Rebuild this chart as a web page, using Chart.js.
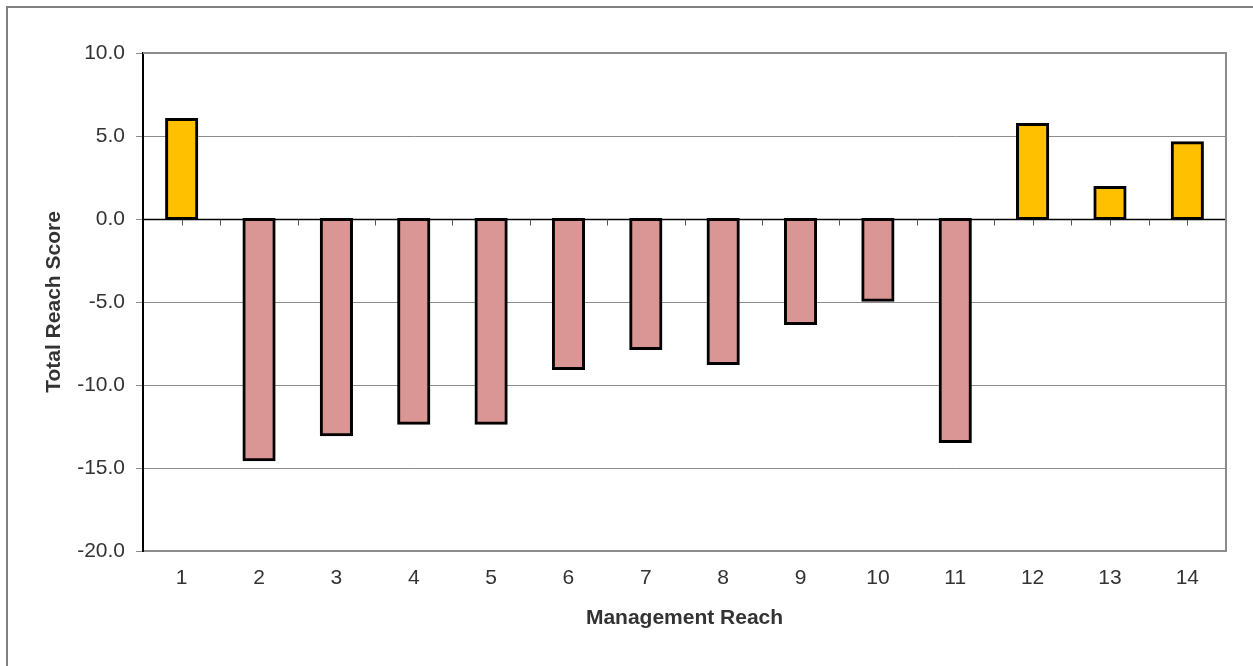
<!DOCTYPE html>
<html>
<head>
<meta charset="utf-8">
<script src="https://cdn.jsdelivr.net/npm/chart.js@4.4.0/dist/chart.umd.min.js"></script>
<style>
  body { margin: 0; background: #fff; }
  #wrap { position: relative; width: 1253px; height: 666px; }
  #frame { position: absolute; left: 6px; top: 6px; right: -10px; bottom: -10px;
           border-left: 2px solid #808080; border-top: 2px solid #808080; pointer-events: none; }
</style>
</head>
<body>
<div id="wrap">
  <canvas id="myChart" width="1253" height="666"></canvas>
  <div id="frame"></div>
</div>
<script>
// chart data
const reaches = ["1", "2", "3", "4", "5", "6", "7", "8", "9", "10", "11", "12", "13", "14"];
const scores = [6.0, -14.5, -13.0, -12.3, -12.3, -9.0, -7.8, -8.7, -6.3, -4.9, -13.4, 5.7, 1.9, 4.6];
const yTicks = [10, 5, 0, -5, -10, -15, -20];

const posColor = '#FFC000';
const negColor = '#DA9694';
const fontFamily = 'Liberation Sans, Arial';

// zero line + small ticks, drawn under the bars
const zeroLinePlugin = {
  id: 'zeroLine',
  beforeDatasetsDraw(chart) {
    const ctx = chart.ctx;
    const area = chart.chartArea;
    const x = chart.scales.x;
    const y = chart.scales.y;
    const half = (x.getPixelForValue(1) - x.getPixelForValue(0)) / 2;
    const y0 = Math.round(y.getPixelForValue(0)) + 0.5;
    ctx.save();
    ctx.strokeStyle = '#000';
    ctx.lineWidth = 1.5;
    ctx.beginPath();
    ctx.moveTo(area.left, y0);
    ctx.lineTo(area.right, y0);
    ctx.stroke();
    ctx.lineWidth = 1;
    ctx.strokeStyle = '#555';
    ctx.beginPath();
    for (let i = 0; i < reaches.length; i++) {
      const c = Math.round(x.getPixelForValue(i)) + 0.5;
      const b = Math.round(x.getPixelForValue(i) + half) + 0.5;
      ctx.moveTo(c, y0); ctx.lineTo(c, y0 + 6);
      ctx.moveTo(b, y0); ctx.lineTo(b, y0 + 6);
    }
    ctx.stroke();
    ctx.restore();
  },
  afterDraw(chart) {
    const ctx = chart.ctx;
    const area = chart.chartArea;
    ctx.save();
    ctx.strokeStyle = '#8c8c8c';
    ctx.lineWidth = 2;
    ctx.beginPath();
    ctx.moveTo(area.left, area.top);
    ctx.lineTo(area.right, area.top);
    ctx.lineTo(area.right, area.bottom);
    ctx.stroke();
    ctx.restore();
  }
};

var ctx = document.getElementById('myChart').getContext('2d');
var myChart = new Chart(ctx, {
  type: 'bar',
  data: {
    labels: reaches,
    datasets: [{
      data: scores,
      backgroundColor: scores.map(v => v >= 0 ? posColor : negColor),
      borderColor: '#000',
      borderWidth: 3,
      borderSkipped: false,
      inflateAmount: 1.5,
      categoryPercentage: 1,
      barPercentage: 0.39
    }]
  },
  plugins: [zeroLinePlugin],
  options: {
    responsive: false,
    animation: false,
    layout: { padding: { left: 0, top: 53, right: 27, bottom: 0 } },
    plugins: { legend: { display: false }, tooltip: { enabled: false } },
    scales: {
      x: {
        grid: { display: false, drawTicks: false },
        border: { color: '#8c8c8c', width: 2 },
        ticks: { color: '#333', font: { family: fontFamily, size: 21 }, padding: 15 },
        title: {
          display: true, text: 'Management Reach', color: '#333',
          font: { family: fontFamily, size: 21, weight: 'bold' },
          padding: { top: 0, bottom: 35 }
        },
        afterFit(scale) { scale.height = 115; }
      },
      y: {
        min: -20, max: 10,
        afterBuildTicks(scale) { scale.ticks = yTicks.map(v => ({ value: v })); },
        grid: {
          color: c => c.tick && c.tick.value === 0 ? 'rgba(0,0,0,0)' : '#8c8c8c',
          lineWidth: 1,
          tickLength: 7,
          tickColor: '#8c8c8c'
        },
        border: { color: '#000', width: 2 },
        ticks: {
          color: '#333', padding: 11,
          font: { family: fontFamily, size: 21 },
          callback: v => Number(v).toFixed(1)
        },
        title: {
          display: true, text: 'Total Reach Score', color: '#333',
          font: { family: fontFamily, size: 21, weight: 'bold' },
          padding: { top: 42, bottom: 0 }
        },
        afterFit(scale) { scale.width = 143; }
      }
    }
  }
});
</script>
</body>
</html>
